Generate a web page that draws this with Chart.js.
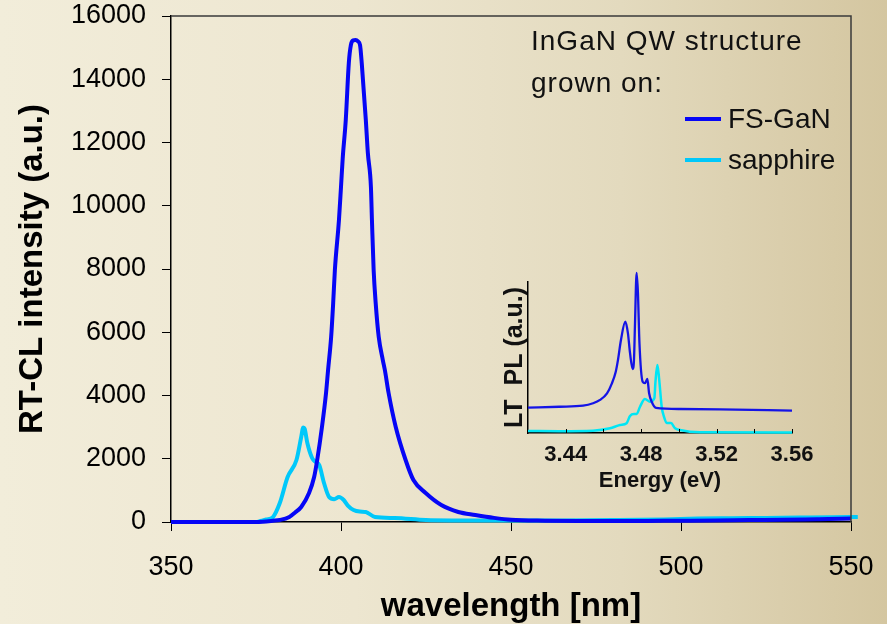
<!DOCTYPE html>
<html><head><meta charset="utf-8">
<script src="https://cdn.jsdelivr.net/npm/chart.js@4"></script>
<style>
html,body{margin:0;padding:0;}
body{width:887px;height:624px;overflow:hidden;position:relative;
 background:linear-gradient(to right,#f2edda 0%,#ede6d0 40%,#e3dabe 70%,#d4c6a0 100%);}
#main{position:absolute;left:0;top:0;}
#inset{position:absolute;left:480px;top:262px;}
</style></head><body>
<canvas id="main" width="887" height="624"></canvas>
<canvas id="inset" width="340" height="238"></canvas>
<script>
// ---- main chart data (RT-CL) ----
const seriesLabels = ['FS-GaN', 'sapphire'];
const legendHeader = ['InGaN QW structure', 'grown on:'];
const wavelengthFS = [350,360,370,375,377,380,382,384.8,386.5,388.3,390.6,392.1,393,394.4,395.6,396.2,397.1,397.7,398.2,399.4,400,400.5,401.4,402.3,402.9,403.6,404.3,405,405.6,406.1,407.3,407.9,408.8,409.1,409.6,410.2,411.1,412.3,412.9,414,416.1,419,421.3,424.9,429.5,434.5,439.5,445,450,460,470,480,490,500,510,520,530,540,550,552];
const intensityFS  = [0,0,0,0,10,40,63,158,300,474,917,1423,1960,3004,4079,4806,5850,6925,7968,9549,10593,11500,12711,14514,15080,15230,15241,15200,15080,14514,12711,11668,10593,9549,7968,6925,5850,5122,4806,4079,3004,1960,1328,917,537,316,221,130,70,40,30,30,35,40,45,60,70,90,110,120];
const wavelengthSap = [350,360,370,375,376.3,378,380,382,384.3,386.9,388.3,388.9,389.3,390.1,391.5,392.5,393.6,395,396.5,398,399.4,400.8,402,403.7,405.5,407.3,410,415.8,425,435,450,465,480,495,505,515,525,535,545,552];
const intensitySap  = [0,0,0,0,30,80,158,600,1423,1960,2688,2990,2950,2498,2024,1900,1802,1233,790,720,790,696,520,380,330,316,158,126,63,50,45,50,60,80,110,120,130,140,150,160];
const xTicks = [350,400,450,500,550];
const yTicks = [0,2000,4000,6000,8000,10000,12000,14000,16000];

// ---- inset data (LT PL) ----
const energyFS = [3.42,3.4367,3.4492,3.4545,3.4582,3.4619,3.4645,3.4665,3.4677,3.4693,3.4716,3.4730,3.4741,3.4755,3.4762,3.4767,3.4776,3.4783,3.4791,3.4808,3.4820,3.4833,3.4842,3.4856,3.4879,3.5006,3.5218,3.56];
const plFS     = [16.8,17.4,18.1,19.7,21.9,26.3,32.9,40.4,48.3,61.6,73.7,66,53,42.4,48.3,70.4,106,92.7,59.6,34,33,35.8,26.5,20.7,16.6,15.9,15.7,14.8];
const energySap = [3.42,3.4367,3.4545,3.4635,3.4688,3.4723,3.4741,3.4762,3.4776,3.4794,3.4820,3.4847,3.4870,3.4876,3.4886,3.4895,3.4909,3.4921,3.4936,3.4958,3.4980,3.5006,3.5112,3.56];
const plSap     = [1.3,1.2,1.5,3.1,5.3,6.5,11.3,12.6,12.6,17.4,22.5,20.7,23,34,45,36.4,17.4,10.8,6.6,6.6,3.1,2,0.5,0.3];
const insetTickMarks = [3.44,3.46,3.48,3.50,3.52,3.54,3.56];
const insetTickLabels = [3.44,3.48,3.52,3.56];

const FONT = "'Liberation Sans', Arial, sans-serif";
const BLUE = '#0606f6';
const CYAN = '#00c8fa';
const pairs = (xs, ys) => xs.map((x, i) => ({x, y: ys[i]}));
const noPad = s => { s.paddingTop = 0; s.paddingBottom = 0; s.paddingLeft = 0; s.paddingRight = 0; };

const frameLegendPlugin = {
  id: 'frameLegend',
  afterDraw(chart) {
    const {ctx, chartArea: a} = chart;
    ctx.save();
    ctx.strokeStyle = '#3a3a3a';
    ctx.lineWidth = 1.5;
    ctx.beginPath();
    ctx.moveTo(a.left, a.top);
    ctx.lineTo(a.right, a.top);
    ctx.lineTo(a.right, a.bottom);
    ctx.stroke();
    ctx.fillStyle = '#111';
    ctx.font = '28px ' + FONT;
    ctx.textBaseline = 'middle';
    ctx.textAlign = 'left';
    ctx.letterSpacing = '1px';
    ctx.fillText(legendHeader[0], 531, 42);
    ctx.fillText(legendHeader[1], 531, 84);
    ctx.letterSpacing = '0px';
    const ys = [120, 161];
    chart.data.datasets.forEach((ds, i) => {
      ctx.strokeStyle = ds.borderColor;
      ctx.lineWidth = 4;
      ctx.beginPath();
      ctx.moveTo(685, ys[i] - 1);
      ctx.lineTo(721, ys[i] - 1);
      ctx.stroke();
      ctx.fillStyle = '#111';
      ctx.fillText(ds.label, 728, ys[i]);
    });
    ctx.restore();
  }
};

new Chart(document.getElementById('main'), {
  type: 'line',
  data: {
    datasets: [
      {label: seriesLabels[0], data: pairs(wavelengthFS, intensityFS), borderColor: BLUE, borderWidth: 4, pointRadius: 0, cubicInterpolationMode: 'monotone', clip: false},
      {label: seriesLabels[1], data: pairs(wavelengthSap, intensitySap), borderColor: CYAN, borderWidth: 4, pointRadius: 0, cubicInterpolationMode: 'monotone', clip: false}
    ]
  },
  options: {
    responsive: false, animation: false, devicePixelRatio: 1,
    layout: {padding: {left: 0, top: 16, right: 36, bottom: 0}},
    plugins: {legend: {display: false}, tooltip: {enabled: false}},
    scales: {
      x: {
        type: 'linear', min: 350, max: 550,
        afterBuildTicks: s => { s.ticks = xTicks.map(v => ({value: v})); },
        afterFit: s => { s.height = 102; noPad(s); },
        border: {display: true, color: '#000', width: 1.5},
        grid: {display: true, drawOnChartArea: false, drawTicks: true, tickLength: 9, color: '#000', tickWidth: 1},
        ticks: {color: '#000', font: {family: FONT, size: 27, lineHeight: 1.2}, padding: 20, maxRotation: 0, callback: v => String(v)},
        title: {display: true, text: 'wavelength [nm]', color: '#000', font: {family: FONT, size: 33, weight: 'bold', lineHeight: 1}, padding: {top: 0, bottom: 1}}
      },
      y: {
        type: 'linear', min: 0, max: 16000,
        afterBuildTicks: s => { s.ticks = yTicks.map(v => ({value: v})); },
        afterFit: s => { s.width = 171; noPad(s); },
        border: {display: true, color: '#000', width: 1.5},
        grid: {display: true, drawOnChartArea: false, drawTicks: true, tickLength: 9, color: '#000', tickWidth: 1},
        ticks: {color: '#000', font: {family: FONT, size: 27, lineHeight: 1.1}, padding: 16, callback: v => String(v)},
        title: {display: true, text: 'RT-CL intensity (a.u.)', color: '#000', font: {family: FONT, size: 33, weight: 'bold', lineHeight: 1}, padding: {top: 16, bottom: 0}}
      }
    }
  },
  plugins: [frameLegendPlugin]
});

const insetTicksPlugin = {
  id: 'insetTicks',
  afterDraw(chart) {
    const {ctx, chartArea: a} = chart;
    const xs = chart.scales.x;
    ctx.save();
    ctx.strokeStyle = '#000';
    ctx.lineWidth = 1;
    ctx.beginPath();
    insetTickMarks.forEach(v => {
      const px = Math.round(xs.getPixelForValue(v)) + 0.5;
      ctx.moveTo(px, a.bottom);
      ctx.lineTo(px, a.bottom - 4);
    });
    ctx.stroke();
    ctx.restore();
  }
};

new Chart(document.getElementById('inset'), {
  type: 'line',
  data: {
    datasets: [
      {label: seriesLabels[0], data: pairs(energyFS, plFS), borderColor: '#1414e6', borderWidth: 2.3, pointRadius: 0, cubicInterpolationMode: 'monotone', clip: false},
      {label: seriesLabels[1], data: pairs(energySap, plSap), borderColor: '#00e6f5', borderWidth: 2.5, pointRadius: 0, cubicInterpolationMode: 'monotone', clip: false}
    ]
  },
  options: {
    responsive: false, animation: false, devicePixelRatio: 1,
    layout: {padding: {left: 0, top: 20, right: 28, bottom: 0}},
    plugins: {legend: {display: false}, tooltip: {enabled: false}},
    scales: {
      x: {
        type: 'linear', min: 3.42, max: 3.56,
        afterBuildTicks: s => { s.ticks = insetTickMarks.map(v => ({value: v})); },
        afterFit: s => { s.height = 67; noPad(s); },
        border: {display: true, color: '#000', width: 1.5},
        grid: {display: false},
        ticks: {color: '#111', font: {family: FONT, size: 22, weight: 'bold', lineHeight: 1.2}, padding: 1, maxRotation: 0, autoSkip: false,
          callback: v => insetTickLabels.some(t => Math.abs(t - v) < 1e-6) ? Number(v).toFixed(2) : ''},
        title: {display: true, text: 'Energy (eV)', color: '#111', font: {family: FONT, size: 22, weight: 'bold', lineHeight: 1}, padding: {top: 0, bottom: 8}}
      },
      y: {
        type: 'linear', min: 0, max: 100,
        afterFit: s => { s.width = 48; noPad(s); },
        border: {display: true, color: '#000', width: 1.5},
        grid: {display: false},
        ticks: {display: false},
        title: {display: true, text: 'LT  PL (a.u.)', color: '#111', font: {family: FONT, size: 25, weight: 'bold', lineHeight: 1}, padding: {top: 23, bottom: 0}}
      }
    }
  },
  plugins: [insetTicksPlugin]
});
</script>
</body></html>
